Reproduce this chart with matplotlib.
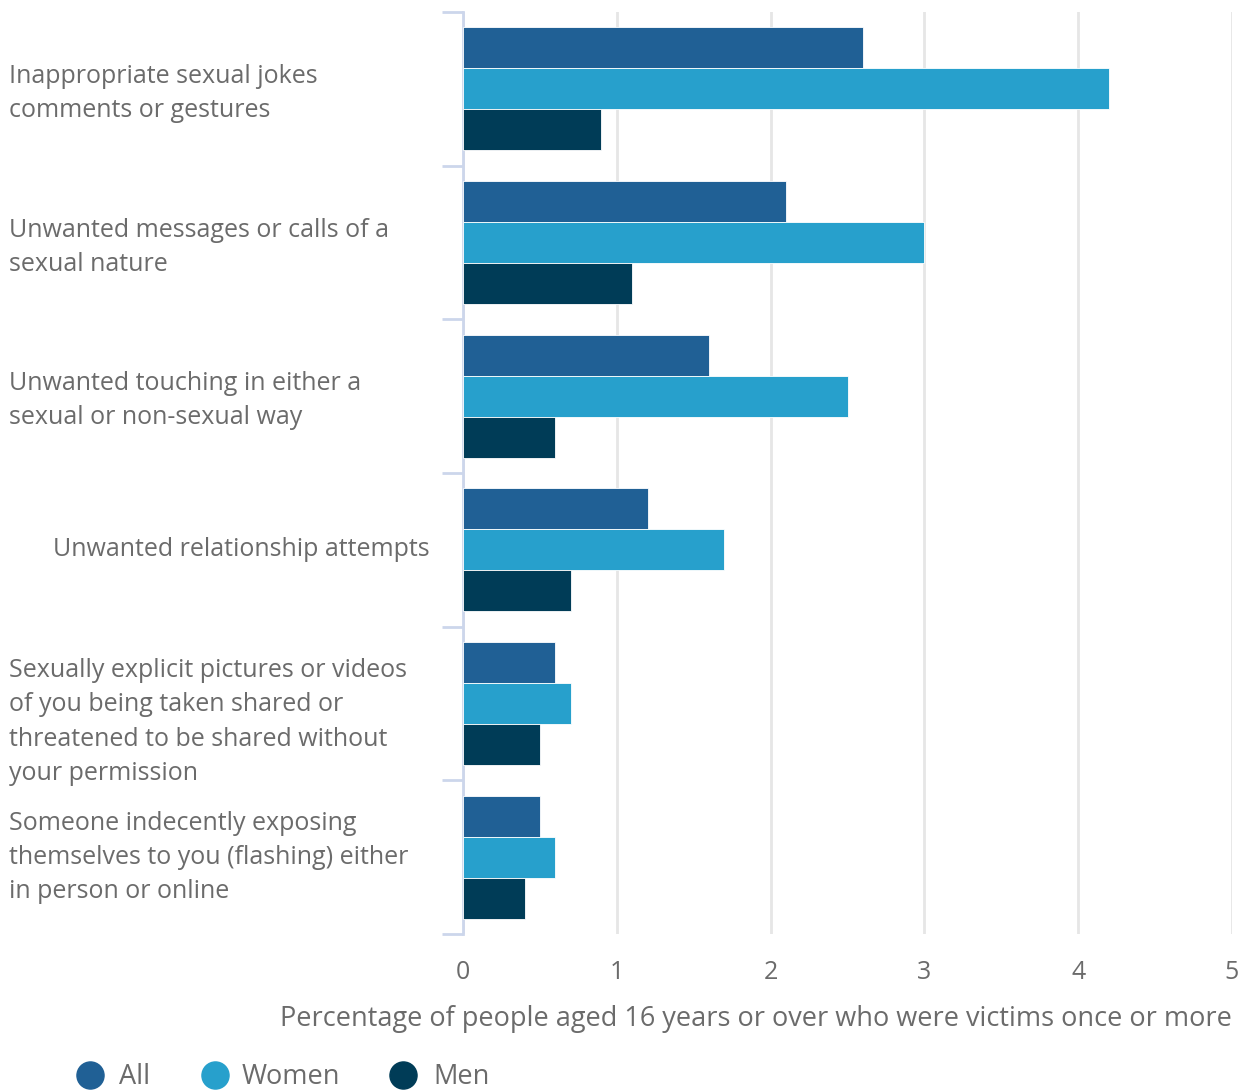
import matplotlib
matplotlib.use("Agg")
import matplotlib.pyplot as plt
import matplotlib.transforms as mtransforms
from matplotlib.lines import Line2D
import numpy as np

plt.rcParams['font.family'] = ['Open Sans', 'DejaVu Sans']

categories = [
    "Inappropriate sexual jokes\ncomments or gestures",
    "Unwanted messages or calls of a\nsexual nature",
    "Unwanted touching in either a\nsexual or non-sexual way",
    "Unwanted relationship attempts",
    "Sexually explicit pictures or videos\nof you being taken shared or\nthreatened to be shared without\nyour permission",
    "Someone indecently exposing\nthemselves to you (flashing) either\nin person or online",
]
series_names = ["All", "Women", "Men"]
all_vals = [2.6, 2.1, 1.6, 1.2, 0.6, 0.5]
women_vals = [4.2, 3.0, 2.5, 1.7, 0.7, 0.6]
men_vals = [0.9, 1.1, 0.6, 0.7, 0.5, 0.4]
colors = ["#206095", "#27a0cc", "#003c57"]
x_ticks = [0, 1, 2, 3, 4, 5]
x_label = "Percentage of people aged 16 years or over who were victims once or more"

W, H = 1245, 1090
fig = plt.figure(figsize=(W / 100, H / 100), dpi=100)
ax = fig.add_axes([463 / W, 1 - 934 / H, (1232 - 463) / W, (934 - 12) / H])

text_color = "#6b6b6b"
n = len(categories)
y = np.arange(n)
bh = 0.8 / 3
for k, vals in enumerate([all_vals, women_vals, men_vals]):
    ax.barh(y - bh + k * bh, vals, height=bh, color=colors[k], edgecolor="white",
            linewidth=0.6, zorder=3, label=series_names[k])

ax.set_ylim(n - 0.5, -0.5)
ax.set_xlim(0, 5)
ax.set_xticks(x_ticks)
ax.set_xticklabels([str(t) for t in x_ticks])
ax.tick_params(axis='x', length=0, labelsize=18, labelcolor=text_color, pad=19)
ax.grid(axis='x', color="#e6e6e6", linewidth=2, zorder=0)
for s in ['top', 'right', 'bottom']:
    ax.spines[s].set_visible(False)
ax.spines['left'].set_color("#ccd6eb")
ax.spines['left'].set_linewidth(2)

ax.set_yticks([])
ax.set_yticks(np.arange(-0.5, n, 1.0), minor=True)
ax.tick_params(axis='y', which='minor', length=15, width=2, color="#ccd6eb", labelleft=False)

ax.set_xlabel(x_label, fontsize=19.5, color=text_color, labelpad=14, loc='right')

trans = mtransforms.blended_transform_factory(fig.transFigure, ax.transData)
offsets = [0.03, 0.03, 0.03, 0.0, 0.12, 0.0]
for i, lab in enumerate(categories):
    if "\n" in lab:
        ax.text(9 / W, i + offsets[i], lab, transform=trans, ha='left', va='center',
                fontsize=18, color=text_color, linespacing=1.48)
    else:
        ax.text(430 / W, i + offsets[i], lab, transform=trans, ha='right', va='center',
                fontsize=18, color=text_color)

# legend
leg_y = 1 - 1077 / H
marker_x = [90, 215, 403]
text_x = [119, 242, 433]
for k in range(3):
    fig.add_artist(Line2D([marker_x[k] / W], [1 - 1075 / H], marker='o', markersize=19.5,
                          color=colors[k], linestyle='none', transform=fig.transFigure))
    fig.text(text_x[k] / W, leg_y, series_names[k], ha='left', va='center',
             fontsize=19.5, color=text_color)

fig.savefig("out.png", dpi=100)
